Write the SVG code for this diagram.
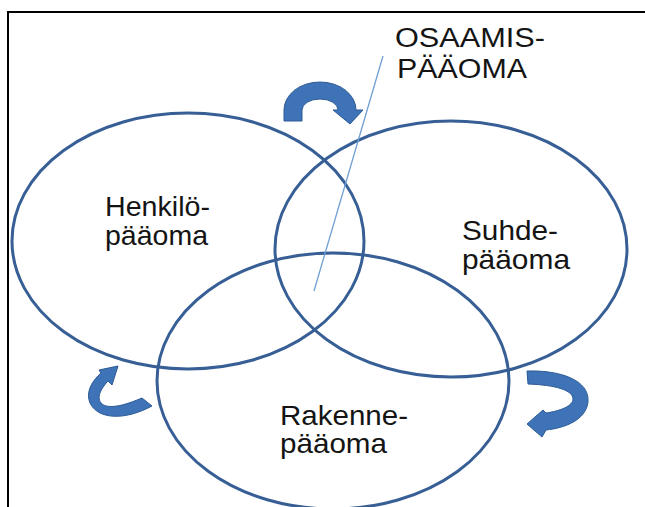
<svg xmlns="http://www.w3.org/2000/svg" width="645" height="507" viewBox="0 0 645 507">
<style>
.ell{fill:none;stroke:#375f96;stroke-width:3}
.lbl{font-family:"Liberation Sans",Arial,sans-serif;font-size:28px;fill:#141414}
.big{font-family:"Liberation Sans",Arial,sans-serif;font-size:27px;fill:#141414}
.arw{fill:#3e73b7;stroke:#2c5a95;stroke-width:1;stroke-linejoin:round}
.lead{stroke:#6f9fd4;stroke-width:1.3;fill:none}
.frame{stroke:#000;stroke-width:2;fill:none}
</style>
<rect width="645" height="507" fill="#fff"/>
<path class="frame" d="M8,507 V12 H645"/>
<g id="henkilopaaoma">
<ellipse class="ell" cx="188" cy="241" rx="176" ry="128"/>
<text class="lbl" x="105" y="216" textLength="105" lengthAdjust="spacingAndGlyphs">Henkilö-</text>
<text class="lbl" x="105" y="245" textLength="103" lengthAdjust="spacingAndGlyphs">pääoma</text>
</g>
<g id="suhdepaaoma">
<ellipse class="ell" cx="451" cy="249" rx="176" ry="128"/>
<text class="lbl" x="462" y="240" textLength="96" lengthAdjust="spacingAndGlyphs">Suhde-</text>
<text class="lbl" x="462" y="269" textLength="108" lengthAdjust="spacingAndGlyphs">pääoma</text>
</g>
<g id="rakennepaaoma">
<ellipse class="ell" cx="333" cy="381" rx="176" ry="128"/>
<text class="lbl" x="280" y="425" textLength="128" lengthAdjust="spacingAndGlyphs">Rakenne-</text>
<text class="lbl" x="280" y="453" textLength="107" lengthAdjust="spacingAndGlyphs">pääoma</text>
</g>
<g id="osaamispaaoma">
<text class="big" x="395" y="47" textLength="150" lengthAdjust="spacingAndGlyphs">OSAAMIS-</text>
<text class="big" x="397" y="78" textLength="130" lengthAdjust="spacingAndGlyphs">PÄÄOMA</text>
</g>
<g id="connectors">
<line class="lead" x1="383" y1="56" x2="314" y2="291"/>
<path class="arw" d="M284,121 L284,110 A36,28 0 0 1 356,110 L363,110 L350,124 L333,110 L338,110 A18,11 0 0 0 302,110 L302,121 Z"/>
<path class="arw" d="M527,371 C560,370 590,380 588,402 C586,420 565,428 546,430 L542,437 L527,424 L543,410 L546,413 C560,411 573,406 573,399 C573,390 555,385 528,384 Z"/>
<path class="arw" d="M118,366 L112,385 L108,381 C100,390 96,398 102,404 C110,410 128,404 142,398 L152,406 C135,415 115,420 100,413 C85,405 84,388 101,373 L99,370 Z"/>
</g>
</svg>
